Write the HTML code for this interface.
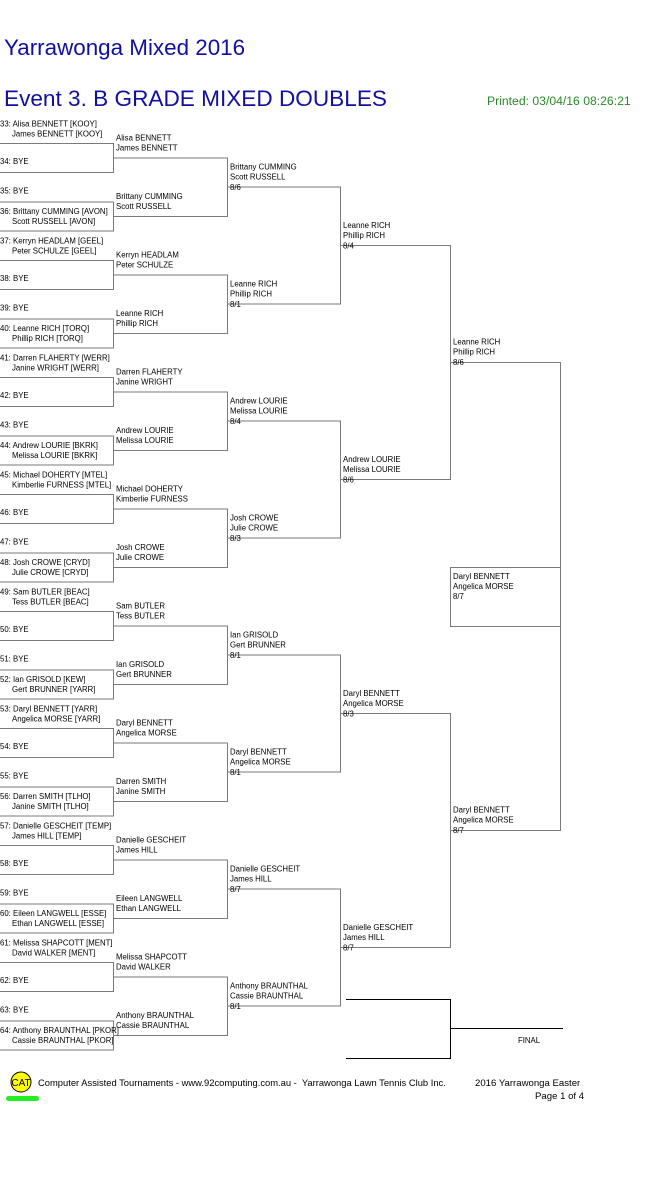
<!DOCTYPE html>
<html><head><meta charset="utf-8"><style>
html,body{margin:0;padding:0;background:#fff;width:661px;height:1196px;overflow:hidden}
svg{display:block}
text{font-family:"Liberation Sans",Arial,sans-serif}
.t{font-size:7.8px;fill:#000}
</style></head><body>
<svg width="661" height="1196" viewBox="0 0 661 1196" xmlns="http://www.w3.org/2000/svg">
<text x="4" y="55" font-size="22.4" fill="#1010a0">Yarrawonga Mixed 2016</text>
<text x="4" y="106" font-size="22.6" fill="#1010a0">Event 3. B GRADE MIXED DOUBLES</text>
<text x="487" y="105" font-size="12.2" fill="#2a8a2a">Printed: 03/04/16 08:26:21</text>
<g id="lines" stroke="#7a7a7a" stroke-width="1" fill="none"></g>
<g id="txt" class="t"></g>
<g stroke="#000" stroke-width="1" fill="none">
<path d="M346 999.5H450.5V1058.5H346M450.5 1028.5H563"/>
</g>
<text x="518" y="1043" class="t">FINAL</text>
<circle cx="21" cy="1082" r="10" fill="#ffff00" stroke="#000" stroke-width="1"/>
<text x="21" y="1086" font-size="10" text-anchor="middle" fill="#000">CAT</text>
<rect x="6" y="1096" width="33" height="5" rx="2.5" fill="#22ee22"/>
<text x="38" y="1086" font-size="9.4" fill="#000" xml:space="preserve">Computer Assisted Tournaments - www.92computing.com.au -  Yarrawonga Lawn Tennis Club Inc.</text>
<text x="475" y="1086" font-size="9.6" fill="#000">2016 Yarrawonga Easter</text>
<text x="535" y="1099" font-size="9.6" fill="#000">Page 1 of 4</text>
</svg>
<script>
var NS="http://www.w3.org/2000/svg";
var L=document.getElementById('lines'),T=document.getElementById('txt');
function ln(d){var p=document.createElementNS(NS,'path');p.setAttribute('d',d);L.appendChild(p);}
function tx(x,y,s){var t=document.createElementNS(NS,'text');t.setAttribute('x',x);t.setAttribute('y',y+3);t.textContent=s;T.appendChild(t);}
var r1=[
["Alisa BENNETT [KOOY]","James BENNETT [KOOY]"],["BYE"],["BYE"],["Brittany CUMMING [AVON]","Scott RUSSELL [AVON]"],
["Kerryn HEADLAM [GEEL]","Peter SCHULZE [GEEL]"],["BYE"],["BYE"],["Leanne RICH [TORQ]","Phillip RICH [TORQ]"],
["Darren FLAHERTY [WERR]","Janine WRIGHT [WERR]"],["BYE"],["BYE"],["Andrew LOURIE [BKRK]","Melissa LOURIE [BKRK]"],
["Michael DOHERTY [MTEL]","Kimberlie FURNESS [MTEL]"],["BYE"],["BYE"],["Josh CROWE [CRYD]","Julie CROWE [CRYD]"],
["Sam BUTLER [BEAC]","Tess BUTLER [BEAC]"],["BYE"],["BYE"],["Ian GRISOLD [KEW]","Gert BRUNNER [YARR]"],
["Daryl BENNETT [YARR]","Angelica MORSE [YARR]"],["BYE"],["BYE"],["Darren SMITH [TLHO]","Janine SMITH [TLHO]"],
["Danielle GESCHEIT [TEMP]","James HILL [TEMP]"],["BYE"],["BYE"],["Eileen LANGWELL [ESSE]","Ethan LANGWELL [ESSE]"],
["Melissa SHAPCOTT [MENT]","David WALKER [MENT]"],["BYE"],["BYE"],["Anthony BRAUNTHAL [PKOR]","Cassie BRAUNTHAL [PKOR]"]];
var P=58.5;
for(var s=0;s<32;s++){
 var k=Math.floor(s/2);var y=(s%2?172:143)+P*k;
 var e=r1[s],n=(33+s)+": ";
 if(e.length==1)tx(0,y-11,n+e[0]);else{tx(0,y-19.5,n+e[0]);tx(12,y-9.5,e[1]);}
}
for(k=0;k<16;k++){var a=143.5+P*k,b=172.5+P*k;ln("M0 "+a+"H113.5V"+b+"H0");}
function rnd(x0,x1,ys){for(var i=0;i<ys.length;i+=2){ln("M"+x0+" "+ys[i]+"H"+x1+"V"+ys[i+1]+"H"+x0);}}
var y2=[],y3=[],y4=[],y5=[];
for(k=0;k<16;k++)y2.push(158+P*k);
rnd(113.5,227.5,y2);
for(k=0;k<8;k++)y3.push(187+2*P*k);
rnd(227.5,340.5,y3);
for(k=0;k<4;k++)y4.push(245.5+4*P*k);
rnd(340.5,450.5,y4);
y5=[362.5,830.5];rnd(450.5,560.5,y5);
ln("M450.5 567.5H560.5V626.5H450.5Z");
var r2=[["Alisa BENNETT","James BENNETT"],["Brittany CUMMING","Scott RUSSELL"],["Kerryn HEADLAM","Peter SCHULZE"],["Leanne RICH","Phillip RICH"],
["Darren FLAHERTY","Janine WRIGHT"],["Andrew LOURIE","Melissa LOURIE"],["Michael DOHERTY","Kimberlie FURNESS"],["Josh CROWE","Julie CROWE"],
["Sam BUTLER","Tess BUTLER"],["Ian GRISOLD","Gert BRUNNER"],["Daryl BENNETT","Angelica MORSE"],["Darren SMITH","Janine SMITH"],
["Danielle GESCHEIT","James HILL"],["Eileen LANGWELL","Ethan LANGWELL"],["Melissa SHAPCOTT","David WALKER"],["Anthony BRAUNTHAL","Cassie BRAUNTHAL"]];
function names(x,y,e,sc){tx(x,y-20.5,e[0]);tx(x,y-10.5,e[1]);if(sc)tx(x,y,sc);}
for(k=0;k<16;k++)names(116,y2[k],r2[k]);
var r3=[[1,"8/6"],[3,"8/1"],[5,"8/4"],[7,"8/3"],[9,"8/1"],[10,"8/1"],[12,"8/7"],[15,"8/1"]];
for(k=0;k<8;k++)names(230,y3[k],r2[r3[k][0]],r3[k][1]);
var r4=[[3,"8/4"],[5,"8/6"],[10,"8/3"],[12,"8/7"]];
for(k=0;k<4;k++)names(343,y4[k],r2[r4[k][0]],r4[k][1]);
names(453,362,r2[3],"8/6");names(453,830,r2[10],"8/7");
tx(453,576,"Daryl BENNETT");tx(453,586,"Angelica MORSE");tx(453,596,"8/7");
</script>
</body></html>
